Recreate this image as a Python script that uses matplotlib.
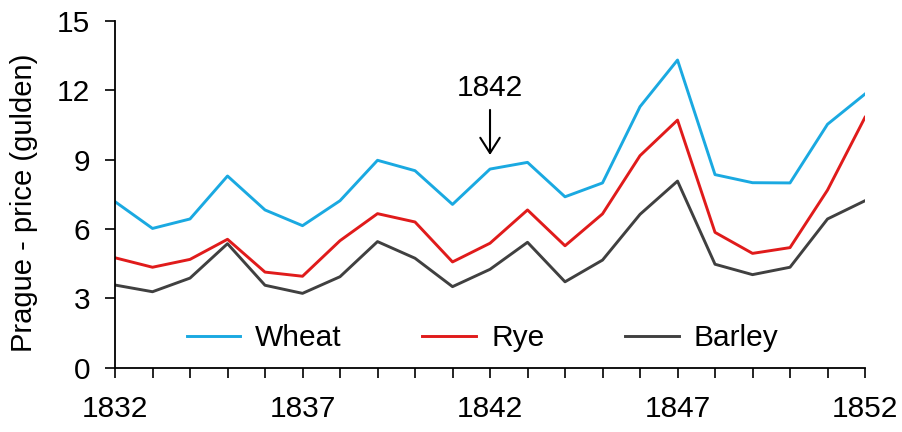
import matplotlib
matplotlib.use("AGG")
import matplotlib.pyplot as plt
import numpy as np

years = list(range(1832, 1853))
wheat = [7.18, 6.02, 6.43, 8.29, 6.82, 6.14, 7.22, 8.97, 8.52, 7.06, 8.59,
         8.88, 7.39, 7.99, 11.29, 13.31, 8.35, 8.00, 7.99, 10.53, 11.84]
rye = [4.75, 4.34, 4.68, 5.55, 4.13, 3.95, 5.49, 6.66, 6.30, 4.57, 5.38,
       6.82, 5.27, 6.65, 9.17, 10.71, 5.85, 4.94, 5.19, 7.68, 10.83]
barley = [3.57, 3.28, 3.87, 5.36, 3.56, 3.21, 3.93, 5.45, 4.73, 3.50, 4.25,
          5.42, 3.71, 4.65, 6.63, 8.07, 4.47, 4.02, 4.34, 6.43, 7.22]
xtick_labels = [1832, 1837, 1842, 1847, 1852]
ytick_labels = [0, 3, 6, 9, 12, 15]

plt.rcParams['font.family'] = ['Liberation Sans', 'DejaVu Sans']

fig = plt.figure(figsize=(9.02, 4.32), dpi=100)
ax = fig.add_axes([0.1275, 0.1493, 0.8315, 0.8021])

ax.plot(years, wheat, color='#1AA9E1', lw=2.1, label='Wheat')
ax.plot(years, rye, color='#E01B1B', lw=2.1, label='Rye')
ax.plot(years, barley, color='#404040', lw=2.1, label='Barley')

ax.set_xlim(1832, 1852)
ax.set_ylim(0, 15)
ax.set_xticks(xtick_labels)
ax.set_xticks(years, minor=True)
ax.set_yticks(ytick_labels)
ax.tick_params(axis='both', which='both', direction='out', length=7, width=1.2, labelsize=21.5)
ax.tick_params(axis='x', pad=13)
ax.tick_params(axis='y', pad=11)
for s in ['top', 'right']:
    ax.spines[s].set_visible(False)
for s in ['left', 'bottom']:
    ax.spines[s].set_linewidth(1.3)

ax.set_ylabel('Prague - price (gulden)', fontsize=21)
ax.yaxis.set_label_coords(-0.103, 0.475)

# 1842 marker
ax.text(1842, 12.1, '1842', ha='center', va='center', fontsize=21.5)
ax.annotate('', xy=(1842, 9.2), xytext=(1842, 11.15),
            arrowprops=dict(arrowstyle='->,head_length=0.55,head_width=0.35',
                            lw=1.5, color='black', mutation_scale=20,
                            shrinkA=0, shrinkB=0))

ax.legend(loc='center', bbox_to_anchor=(0.49, 0.085), ncol=3, frameon=False,
          fontsize=21.5, handlelength=1.8, handletextpad=0.5, columnspacing=2.7,
          borderpad=0, borderaxespad=0)

plt.savefig('out.png', dpi=100)
